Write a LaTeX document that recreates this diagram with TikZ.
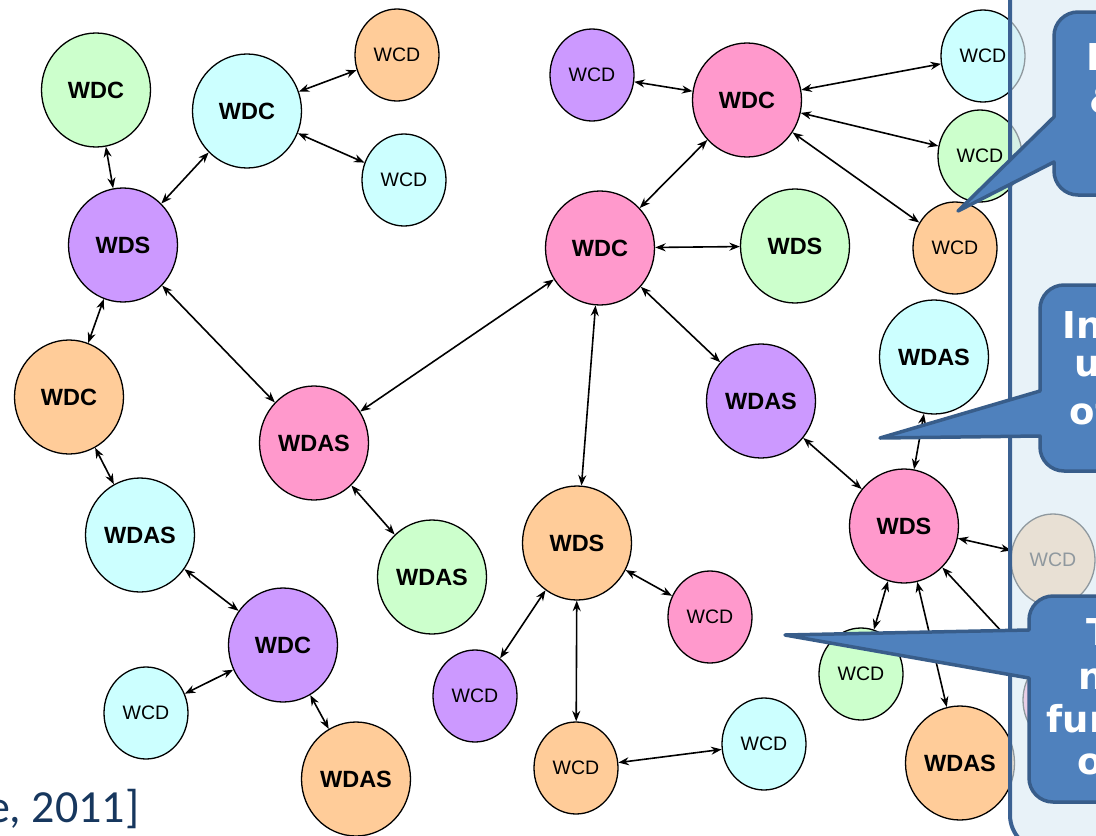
\documentclass[tikz,border=0pt]{standalone}
\usepackage{fontspec}
\setmainfont{Liberation Sans}
\newfontfamily\callfont{DejaVu Sans}
\newfontfamily\citefont{Carlito}
\usetikzlibrary{arrows.meta,shapes.geometric}

\definecolor{wgreen}{HTML}{CCFFCC}
\definecolor{wcyan}{HTML}{CCFFFF}
\definecolor{worange}{HTML}{FFCC99}
\definecolor{wpurple}{HTML}{CC99FF}
\definecolor{wpink}{HTML}{FF99CC}
\definecolor{panelfill}{HTML}{DCEBF4}
\definecolor{panelline}{HTML}{3B6192}
\definecolor{callfill}{HTML}{4F81BD}
\definecolor{callline}{HTML}{385D8A}
\definecolor{citeblue}{HTML}{17375E}

\begin{document}
\begin{tikzpicture}
[x=1pt, y=-1pt, <->, >={Stealth[length=10.5pt,width=8pt]}, line width=1.6pt,
host/.style={ellipse, draw, line width=1.3pt, minimum width=109pt, minimum height=114pt, inner sep=0pt, font=\fontsize{23.5}{23.5}\selectfont\bfseries},
leaf/.style={ellipse, draw, line width=1.3pt, minimum width=84pt, minimum height=92pt, inner sep=0pt, font=\fontsize{19.5}{19.5}\selectfont},
panel/.style={-, draw=panelline, line width=4pt, fill=panelfill, fill opacity=0.65},
callout/.style={-, draw=callline, line width=3.5pt, fill=callfill, line join=round},
calltext/.style={anchor=base west, text=white, inner sep=0pt, font=\callfont\fontsize{37}{37}\selectfont\bfseries}
]
  \useasboundingbox (0,0) rectangle (1096,836);
  \clip (0,0) rectangle (1096,836);

  \node[host, fill=wgreen]  (1)  at (96,90)    {WDC};
  \node[host, fill=wcyan]   (2)  at (247,111)  {WDC};
  \node[leaf, fill=worange] (3)  at (397,55)   {WCD};
  \node[leaf, fill=wcyan]   (4)  at (404,180)  {WCD};
  \node[host, fill=wpurple] (5)  at (123,245)  {WDS};
  \node[host, fill=worange] (6)  at (69,397)   {WDC};
  \node[host, fill=wpink]   (7)  at (314,443)  {WDAS};
  \node[host, fill=wcyan]   (8)  at (140,535)  {WDAS};
  \node[host, fill=wgreen]  (9)  at (432,577)  {WDAS};
  \node[host, fill=wpurple] (10) at (283,645)  {WDC};
  \node[leaf, fill=wcyan]   (11) at (146,713)  {WCD};
  \node[host, fill=worange] (12) at (356,779)  {WDAS};
  \node[leaf, fill=wpurple] (13) at (592,75)   {WCD};
  \node[host, fill=wpink]   (14) at (747,100)  {WDC};
  \node[host, fill=wpink]   (15) at (600,248)  {WDC};
  \node[host, fill=wgreen]  (16) at (795,246)  {WDS};
  \node[host, fill=wpurple] (17) at (761,401)  {WDAS};
  \node[leaf, fill=worange] (18) at (955,248)  {WCD};
  \node[host, fill=wcyan]   (19) at (934,357)  {WDAS};
  \node[leaf, fill=wcyan]   (20) at (983,56)   {WCD};
  \node[leaf, fill=wgreen]  (21) at (980,156)  {WCD};
  \node[host, fill=wpink]   (22) at (904,526)  {WDS};
  \node[leaf, fill=worange] (23) at (1053,560) {WCD};
  \node[leaf, fill=wgreen]  (24) at (861,674)  {WCD};
  \node[host, fill=worange] (25) at (960,763)  {WDAS};
  \node[leaf, fill=wpink]   (26) at (1065,700) {};
  \node[host, fill=worange] (27) at (577,543)  {WDS};
  \node[leaf, fill=wpink]   (28) at (710,617)  {WCD};
  \node[leaf, fill=wpurple] (29) at (475,696)  {WCD};
  \node[leaf, fill=worange] (30) at (576,768)  {WCD};
  \node[leaf, fill=wcyan]   (31) at (764,744)  {WCD};

  \path
    (1) edge (5)
    (2) edge (5)
    (2) edge (3)
    (2) edge (4)
    (5) edge (6)
    (5) edge (7)
    (7) edge (15)
    (7) edge (9)
    (6) edge (8)
    (8) edge (10)
    (10) edge (11)
    (10) edge (12)
    (13) edge (14)
    (14) edge (20)
    (14) edge (21)
    (14) edge (18)
    (14) edge (15)
    (15) edge (16)
    (15) edge (17)
    (15) edge (27)
    (17) edge (22)
    (19) edge (22)
    (22) edge (23)
    (22) edge (24)
    (22) edge (25)
    (22) edge (26)
    (27) edge (28)
    (27) edge (29)
    (27) edge (30)
    (30) edge (31)
    ;

  \node[anchor=base east, text=citeblue, inner sep=0pt, font=\citefont\fontsize{46}{46}\selectfont] (cite) at (140,822) {e, 2011]};

  % side panel and callouts
  \draw[panel, rounded corners=35pt] (1010,-60) rectangle (1260,850);

  \draw[callout] (958,211) -- (1054,117) [rounded corners=24pt] -- (1054,12) -- (1200,12) -- (1200,195) -- (1054,195) [sharp corners] -- (1054,162) -- cycle;
  \draw[callout] (880,438) -- (1040,391) [rounded corners=24pt] -- (1040,285) -- (1200,285) -- (1200,471) -- (1040,471) [sharp corners] -- (1040,436) -- cycle;
  \draw[callout] (785,635) -- (1029,630) [rounded corners=24pt] -- (1029,596) -- (1200,596) -- (1200,802) -- (1029,802) [sharp corners] -- (1029,678) -- cycle;

  \node[calltext] (d1) at (1086,70)  {D};
  \node[calltext] (d2) at (1089,113) {\&};
  \node[calltext] (i1) at (1062,338) {In};
  \node[calltext] (i2) at (1074,376) {u};
  \node[calltext] (i3) at (1069,424) {of};
  \node[calltext] (t1) at (1086,645) {T};
  \node[calltext] (t2) at (1078,689) {n};
  \node[calltext] (t3) at (1046,732) {fur};
  \node[calltext] (t4) at (1077,774) {o};
\end{tikzpicture}
\end{document}
